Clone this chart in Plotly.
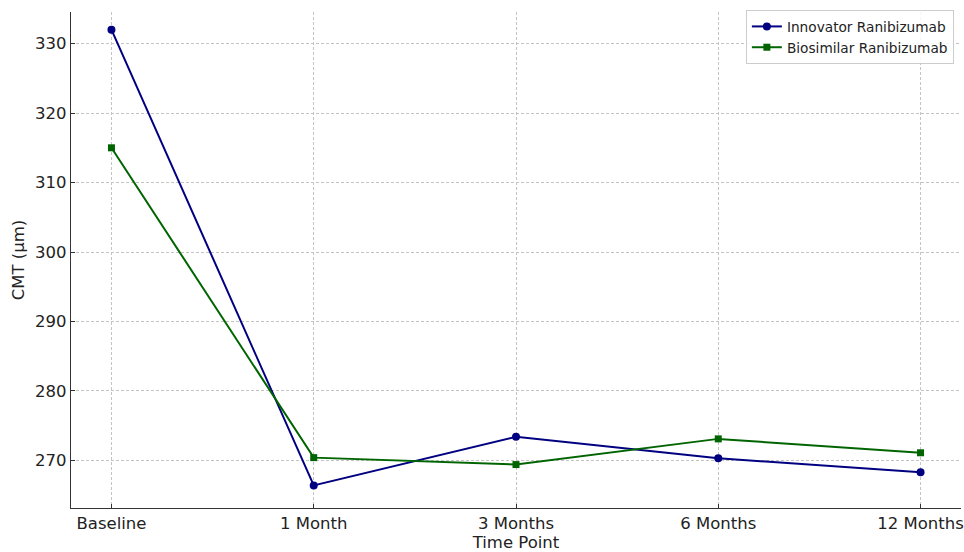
import plotly.graph_objects as go

time_points = ["Baseline", "1 Month", "3 Months", "6 Months", "12 Months"]
innovator = [332.0, 266.4, 273.4, 270.3, 268.3]
biosimilar = [315.0, 270.4, 269.4, 273.1, 271.1]
y_ticks = [270, 280, 290, 300, 310, 320, 330]

fig = go.Figure()
fig.add_trace(go.Scatter(
    x=list(range(len(time_points))), y=innovator, name="Innovator Ranibizumab",
    mode="lines+markers", line=dict(color="#000080", width=2),
    marker=dict(symbol="circle", size=8, color="#000080")))
fig.add_trace(go.Scatter(
    x=list(range(len(time_points))), y=biosimilar, name="Biosimilar Ranibizumab",
    mode="lines+markers", line=dict(color="#006400", width=2),
    marker=dict(symbol="square", size=7, color="#006400")))

fig.update_layout(
    width=964, height=552,
    margin=dict(l=71, r=0, t=12, b=44),
    paper_bgcolor="white", plot_bgcolor="white",
    font=dict(family="DejaVu Sans", size=16.5, color="#222"),
    showlegend=True,
    legend=dict(x=0.992, y=1.004, xanchor="right", yanchor="top",
                bgcolor="rgba(255,255,255,0.85)", bordercolor="#cccccc", borderwidth=1,
                font=dict(size=13.7, color="#222"), tracegroupgap=0),
)
fig.update_xaxes(
    range=[-0.2, 4.2], tickmode="array", tickvals=list(range(len(time_points))),
    ticktext=time_points, showline=True, linecolor="#333", linewidth=1.2,
    ticks="inside", ticklen=4, tickcolor="#333", ticklabeloverflow="allow",
    showgrid=True, gridcolor="#c4c4c4", gridwidth=0.8, griddash="3px,2px",
    zeroline=False, mirror=False,
    title=dict(text="Time Point", font=dict(size=16.5), standoff=4),
)
fig.update_yaxes(
    range=[263.15, 334.55], tickmode="array", tickvals=y_ticks,
    showline=True, linecolor="#333", linewidth=1.2,
    ticks="inside", ticklen=4, tickcolor="#333",
    showgrid=True, gridcolor="#c4c4c4", gridwidth=0.8, griddash="3px,2px",
    zeroline=False, mirror=False,
    title=dict(text="CMT (µm)", font=dict(size=16.5), standoff=6),
)

fig.write_html("out.html", config={"displayModeBar": False},
               post_script="document.body.style.margin='0';")
